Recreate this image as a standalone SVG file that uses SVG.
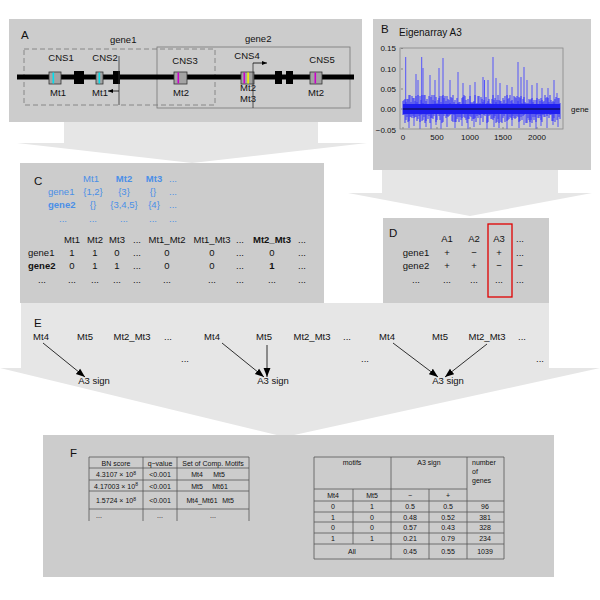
<svg xmlns="http://www.w3.org/2000/svg" width="600" height="600" viewBox="0 0 600 600">
<defs>
<style>
.p{fill:#cccccc}
.l{fill:#e6e6e6}
text{font-family:"Liberation Sans",Arial,sans-serif;font-size:9.5px;fill:#111}
.lab{font-size:11.5px}
.c{text-anchor:middle}
.r{text-anchor:end}
.b{font-weight:bold}
.bl{fill:#4a8fe7}
.s{font-size:7px}
.s8{font-size:8px}
.tb{fill:none;stroke:#555;stroke-width:0.8}
.cns{fill:#a3a3a3;stroke:#333;stroke-width:0.8}
.blk{fill:#000}
.arr{stroke:#000;stroke-width:0.8;fill:none}
</style>
<marker id="ah" viewBox="0 0 10 10" refX="10" refY="5" markerWidth="9" markerHeight="9" markerUnits="userSpaceOnUse" orient="auto"><path d="M0,1.2L10,5L0,8.8z" fill="#000"/></marker>
<marker id="ah2" viewBox="0 0 10 10" refX="10" refY="5" markerWidth="5" markerHeight="5" markerUnits="userSpaceOnUse" orient="auto"><path d="M0,1L10,5L0,9z" fill="#000"/></marker>
</defs>
<rect width="600" height="600" fill="#fff"/>

<!-- background flow arrows -->
<g id="flowAC"><path class="l" d="M64,122H318V143H367L192,163L17,143H64Z"/></g>
<g id="flowBD"><path class="l" d="M382,170H558V193H592L470,216L348,193H382Z"/></g>

<!-- Panel A -->
<g id="panelA">
<rect class="p" x="9" y="19" width="353" height="103"/>
<text class="lab" x="21" y="39">A</text>
<text x="110" y="43">gene1</text>
<text x="245" y="42">gene2</text>
<rect x="24" y="49" width="191" height="56" fill="none" stroke="#777" stroke-width="0.8" stroke-dasharray="5,3"/>
<rect x="157" y="47" width="193" height="61" fill="none" stroke="#777" stroke-width="0.8"/>
<line x1="17" y1="77" x2="354" y2="77" stroke="#000" stroke-width="5"/>
<rect class="blk" x="74" y="71" width="10" height="13"/>
<rect class="blk" x="113" y="71" width="7" height="13"/>
<rect class="blk" x="275" y="71" width="7" height="13"/>
<rect class="blk" x="286" y="71" width="7" height="13"/>
<g id="cns1"><rect class="cns" x="49" y="72" width="12" height="12"/><rect x="52.5" y="72.5" width="1.6" height="11" fill="#00e0ee"/><text class="c" x="61" y="61">CNS1</text><text class="c" x="58" y="96">Mt1</text></g>
<g id="cns2"><rect class="cns" x="96" y="72" width="7" height="12"/><rect x="98.5" y="72.5" width="1.6" height="11" fill="#00e0ee"/><text class="c" x="105" y="61">CNS2</text><text class="c" x="100" y="96">Mt1</text></g>
<g id="cns3"><rect class="cns" x="174" y="72" width="13" height="12"/><rect x="177.5" y="72.5" width="1.6" height="11" fill="#cc00cc"/><text class="c" x="185" y="64">CNS3</text><text class="c" x="181" y="96">Mt2</text></g>
<g id="cns4"><rect class="cns" x="241" y="72" width="13" height="12"/><rect x="243.5" y="72.5" width="1.6" height="11" fill="#cc00cc"/><rect x="247.3" y="72.5" width="1.6" height="11" fill="#f2f200"/><text class="c" x="247" y="59">CNS4</text><text class="c" x="248" y="91">Mt2</text><text class="c" x="248" y="102">Mt3</text></g>
<g id="cns5"><rect class="cns" x="310" y="72" width="12" height="12"/><rect x="314.5" y="72.5" width="1.6" height="11" fill="#cc00cc"/><text class="c" x="322" y="63">CNS5</text><text class="c" x="316" y="96">Mt2</text></g>
<g id="tss">
<line x1="119" y1="56" x2="119" y2="105" stroke="#333" stroke-width="0.8"/>
<line x1="119" y1="91" x2="108" y2="91" stroke="#000" stroke-width="0.8" marker-end="url(#ah2)"/>
<line x1="253" y1="63" x2="253" y2="108" stroke="#333" stroke-width="0.8"/>
<line x1="253" y1="63" x2="267" y2="63" stroke="#000" stroke-width="0.8" marker-end="url(#ah2)"/>
</g>
</g>

<!-- Panel B -->
<g id="panelB">
<rect class="p" x="373" y="19" width="218" height="151"/>
<text class="lab" x="381" y="33">B</text>
<text x="399" y="36" style="font-size:10px">Eigenarray A3</text>
<text class="r s8" x="396" y="51">0.15</text>
<text class="r s8" x="396" y="72">0.10</text>
<text class="r s8" x="396" y="92">0.05</text>
<text class="r s8" x="396" y="112">0.00</text>
<text class="r s8" x="396" y="133">−0.05</text>
<text class="c s8" x="403" y="140">0</text>
<text class="c s8" x="437" y="140">500</text>
<text class="c s8" x="470" y="140">1000</text>
<text class="c s8" x="503" y="140">1500</text>
<text class="c s8" x="537" y="140">2000</text>
<text class="s8" x="571" y="112">gene</text>
<path d="M401,48.5h2M401,69h2M401,89h2M401,109h2M403,127v2M437,127v2M470,127v2M503,127v2M537,127v2" stroke="#555" stroke-width="0.6"/>
<path stroke="#4848ff" stroke-width="1" opacity="0.9" d="M405.7 57V104M416 74V104M418 80V104M421.7 57V104M423 68V104M430 75V104M435 80V104M439 68V104M443 58V104M450 80V104M458 72V104M463 83V104M470 85V104M475 82V104M483 77V104M484.5 80V104M488 80V104M493 57V104M496 78V104M500 83V104M507 85V104M512 87V104M518 62V104M521 77V104M524 67V104M527 80V104M532 85V104M537 83V104M542 88V104M548 88V104M554 80V104M557 93V104M409 114V128M414 114V126M420 114V129M426 114V127M431 114V129M436 114V125M441 114V129M447 114V127M455 114V128M462 114V126M468 114V129M474 114V127M480 114V125M487 114V129M494 114V127M499 114V128M507 114V129M512 114V126M519 114V128M524 114V125M530 114V127M536 114V129M541 114V126M547 114V128M553 114V125M558 114V127"/>
<path stroke="#2a2aff" stroke-width="1" opacity="0.9" d="M403 101V115M404 100V115M405 99V123M406 102V120M407 99V117M408 99V122M409 95V121M410 95V117M411 102V117M412 96V118M413 98V116M414 98V118M415 101V117M416 96V117M417 102V121M418 95V119M419 104V116M420 96V122M421 100V115M422 95V121M423 103V120M424 95V117M425 95V123M426 101V121M427 99V115M428 104V119M429 96V116M430 104V123M431 97V118M432 95V118M433 100V119M434 95V116M435 101V114M436 97V122M437 103V120M438 100V114M439 98V116M440 96V120M441 102V114M442 96V123M443 95V122M444 98V116M445 96V114M446 101V118M447 96V116M448 99V117M449 100V116M450 103V115M451 97V114M452 98V121M453 95V122M454 102V115M455 100V122M456 104V122M457 98V119M458 103V117M459 102V122M460 102V117M461 104V120M462 98V118M463 97V114M464 95V117M465 96V118M466 100V120M467 104V123M468 99V119M469 104V119M470 96V116M471 102V117M472 103V121M473 102V119M474 101V119M475 95V118M476 104V122M477 103V116M478 96V118M479 96V115M480 103V115M481 97V118M482 99V114M483 102V122M484 100V115M485 104V116M486 97V114M487 103V123M488 101V122M489 99V116M490 103V115M491 104V119M492 99V119M493 95V120M494 100V118M495 98V116M496 102V123M497 100V122M498 95V119M499 100V123M500 101V114M501 101V122M502 103V123M503 98V118M504 100V116M505 96V122M506 103V114M507 95V121M508 99V120M509 98V119M510 95V117M511 101V118M512 100V120M513 103V116M514 96V118M515 97V119M516 98V118M517 96V116M518 101V117M519 97V122M520 98V121M521 96V117M522 103V120M523 99V116M524 97V115M525 102V114M526 103V123M527 104V123M528 103V118M529 99V120M530 100V122M531 99V120M532 98V123M533 102V117M534 100V120M535 104V117M536 100V122M537 98V115M538 104V118M539 99V118M540 101V116M541 98V120M542 100V122M543 102V115M544 101V117M545 95V117M546 98V114M547 97V116M548 98V114M549 102V118M550 95V115M551 100V115M552 102V121M553 101V121M554 102V118M555 99V122M556 97V114M557 104V120M558 98V114M559 98V117M560 103V119"/>
<rect x="403" y="104" width="157" height="10" fill="#1818f0" opacity="0.9"/>
<line x1="403" y1="109" x2="560" y2="109" stroke="#000" stroke-width="0.8"/>
<rect x="400" y="48" width="163" height="81" fill="none" stroke="#888" stroke-width="0.8"/>
</g>

<!-- Panel C -->
<g id="panelC">
<rect class="p" x="20" y="163" width="304" height="140"/>
<text class="lab" x="34" y="185">C</text>
<text class="c bl" x="91" y="182">Mt1</text>
<text class="c bl b" x="124" y="182">Mt2</text>
<text class="c bl b" x="154" y="182">Mt3</text>
<text class="c bl" x="173" y="182">...</text>
<text class="bl" x="48" y="195">gene1</text>
<text class="c bl" x="93" y="195">{1,2}</text>
<text class="c bl" x="124" y="195">{3}</text>
<text class="c bl" x="153" y="195">{}</text>
<text class="c bl" x="173" y="195">...</text>
<text class="bl b" x="48" y="208">gene2</text>
<text class="c bl" x="93" y="208">{}</text>
<text class="c bl" x="124" y="208">{3,4,5}</text>
<text class="c bl" x="154" y="208">{4}</text>
<text class="c bl" x="173" y="208">...</text>
<text class="c bl" x="63" y="222">...</text>
<text class="c bl" x="93" y="222">...</text>
<text class="c bl" x="124" y="222">...</text>
<text class="c bl" x="153" y="222">...</text>
<text class="c bl" x="173" y="222">...</text>
<text class="c" x="72" y="243">Mt1</text>
<text class="c" x="95" y="243">Mt2</text>
<text class="c" x="117" y="243">Mt3</text>
<text class="c" x="137" y="243">...</text>
<text class="c" x="167" y="243">Mt1_Mt2</text>
<text class="c" x="212" y="243">Mt1_Mt3</text>
<text class="c" x="240" y="243">...</text>
<text class="c b" x="272" y="243">Mt2_Mt3</text>
<text class="c" x="302" y="243">...</text>
<text x="28" y="256">gene1</text>
<text class="c" x="72" y="256">1</text>
<text class="c" x="95" y="256">1</text>
<text class="c" x="117" y="256">0</text>
<text class="c" x="137" y="256">...</text>
<text class="c" x="167" y="256">0</text>
<text class="c" x="212" y="256">0</text>
<text class="c" x="240" y="256">...</text>
<text class="c" x="272" y="256">0</text>
<text class="c" x="302" y="256">...</text>
<text class="b" x="28" y="269">gene2</text>
<text class="c" x="72" y="269">0</text>
<text class="c" x="95" y="269">1</text>
<text class="c" x="117" y="269">1</text>
<text class="c" x="137" y="269">...</text>
<text class="c" x="167" y="269">0</text>
<text class="c" x="212" y="269">0</text>
<text class="c" x="240" y="269">...</text>
<text class="c b" x="272" y="269">1</text>
<text class="c" x="302" y="269">...</text>
<text class="c" x="42" y="283" fill="#555">...</text>
<text class="c" x="72" y="283" fill="#555">...</text>
<text class="c" x="95" y="283" fill="#555">...</text>
<text class="c" x="117" y="283" fill="#555">...</text>
<text class="c" x="137" y="283" fill="#555">...</text>
<text class="c" x="167" y="283" fill="#555">...</text>
<text class="c" x="212" y="283" fill="#555">...</text>
<text class="c" x="240" y="283" fill="#555">...</text>
<text class="c" x="272" y="283" fill="#555">...</text>
<text class="c" x="302" y="283" fill="#555">...</text>
</g>

<!-- Panel D -->
<g id="panelD">
<rect class="p" x="383" y="218" width="166" height="85"/>
<text class="lab" x="389" y="237">D</text>
<text class="c" x="447" y="242">A1</text>
<text class="c" x="474" y="242">A2</text>
<text class="c" x="499" y="242">A3</text>
<text class="c" x="520" y="242">...</text>
<text class="c" x="416" y="256">gene1</text>
<text class="c" x="447" y="256">+</text>
<text class="c" x="474" y="256">−</text>
<text class="c" x="499" y="256">+</text>
<text class="c" x="520" y="256">...</text>
<text class="c" x="416" y="269">gene2</text>
<text class="c" x="447" y="269">+</text>
<text class="c" x="474" y="269">+</text>
<text class="c" x="499" y="269">−</text>
<text class="c" x="520" y="269">−</text>
<text class="c" x="416" y="283" fill="#555">...</text>
<text class="c" x="447" y="283" fill="#555">...</text>
<text class="c" x="474" y="283" fill="#555">...</text>
<text class="c" x="499" y="283" fill="#555">...</text>
<text class="c" x="520" y="283" fill="#555">...</text>
<rect x="488" y="224" width="24" height="73" fill="none" stroke="#e00000" stroke-width="1.3"/>
</g>

<!-- Panel E -->
<g id="panelE">
<path class="l" d="M21,303H549V368H600L285,437L0,368H21Z"/>
<text class="lab" x="34" y="327">E</text>
<text class="c" x="41" y="340">Mt4</text>
<text class="c" x="85" y="340">Mt5</text>
<text class="c" x="132" y="340">Mt2_Mt3</text>
<text class="c" x="168" y="340">...</text>
<text class="c" x="212" y="340">Mt4</text>
<text class="c" x="264" y="340">Mt5</text>
<text class="c" x="312" y="340">Mt2_Mt3</text>
<text class="c" x="347" y="340">...</text>
<text class="c" x="387" y="340">Mt4</text>
<text class="c" x="440" y="340">Mt5</text>
<text class="c" x="487" y="340">Mt2_Mt3</text>
<text class="c" x="522" y="340">...</text>
<text class="c" x="185" y="362" fill="#555">...</text>
<text class="c" x="365" y="362" fill="#555">...</text>
<text class="c" x="540" y="362" fill="#555">...</text>
<text class="c" x="94" y="384">A3 sign</text>
<text class="c" x="273" y="384">A3 sign</text>
<text class="c" x="448" y="384">A3 sign</text>
</g>
<g id="connectors">
<line class="arr" x1="43" y1="343" x2="85" y2="377" marker-end="url(#ah)"/>
<line class="arr" x1="222" y1="343" x2="264" y2="377" marker-end="url(#ah)"/>
<line class="arr" x1="267" y1="345" x2="267" y2="377" marker-end="url(#ah)"/>
<line class="arr" x1="393" y1="343" x2="438" y2="377" marker-end="url(#ah)"/>
<line class="arr" x1="487" y1="344" x2="445" y2="377" marker-end="url(#ah)"/>
</g>

<!-- Panel F -->
<g id="panelF">
<rect class="p" x="43" y="435" width="511" height="142"/>
<text class="lab" x="70" y="457">F</text>
<g id="tableBN">
<path class="tb" d="M89,457H249M89,468H249M89,480H249M89,491H249M89,509H249M89,457V521M143,457V521M177,457V521M249,457V521"/>
<text class="c s" x="116" y="465.5">BN score</text>
<text class="c s" x="160" y="465.5">q−value</text>
<text class="c s" x="213" y="465.5">Set of Comp. Motifs</text>
<text class="c s" x="116" y="477">4.3107 × 10<tspan dy="-2.5" style="font-size:5px">8</tspan></text>
<text class="c s" x="160" y="477">&lt;0.001</text>
<text class="c s" x="197" y="477">Mt4</text><text class="c s" x="219" y="477">Mt5</text>
<text class="c s" x="116" y="488.5">4.17003 × 10<tspan dy="-2.5" style="font-size:5px">8</tspan></text>
<text class="c s" x="160" y="488.5">&lt;0.001</text>
<text class="c s" x="197" y="488.5">Mt5</text><text class="c s" x="220" y="488.5">Mt61</text>
<text class="c s" x="116" y="503">1.5724 × 10<tspan dy="-2.5" style="font-size:5px">8</tspan></text>
<text class="c s" x="160" y="503">&lt;0.001</text>
<text class="c s" x="202" y="503">Mt4_Mt61</text><text class="c s" x="228" y="503">Mt5</text>
<text class="c s" x="99" y="518" fill="#555">...</text>
<text class="c s" x="160" y="518" fill="#555">...</text>
<text class="c s" x="213" y="518" fill="#555">...</text>
</g>
<g id="tableCounts">
<path class="tb" d="M314,457H504M314,489H467M314,501H504M314,512H504M314,522H504M314,533H504M314,544H504M314,559H504M314,457V559M353,489V544M391,457V559M429,489V559M467,457V559M504,457V559"/>
<text class="c s" x="352" y="465">motifs</text>
<text class="c s" x="429" y="465">A3 sign</text>
<text class="s" x="472" y="465">number</text>
<text class="s" x="472" y="474">of</text>
<text class="s" x="472" y="483">genes</text>
<text class="c s" x="333" y="497.5">Mt4</text>
<text class="c s" x="372" y="497.5">Mt5</text>
<text class="c s" x="410" y="497.5">−</text>
<text class="c s" x="448" y="497.5">+</text>
<text class="c s" x="333" y="509">0</text><text class="c s" x="372" y="509">1</text><text class="c s" x="410" y="509">0.5</text><text class="c s" x="448" y="509">0.5</text><text class="c s" x="485" y="509">96</text>
<text class="c s" x="333" y="519.5">1</text><text class="c s" x="372" y="519.5">0</text><text class="c s" x="410" y="519.5">0.48</text><text class="c s" x="448" y="519.5">0.52</text><text class="c s" x="485" y="519.5">381</text>
<text class="c s" x="333" y="530">0</text><text class="c s" x="372" y="530">0</text><text class="c s" x="410" y="530">0.57</text><text class="c s" x="448" y="530">0.43</text><text class="c s" x="485" y="530">328</text>
<text class="c s" x="333" y="541">1</text><text class="c s" x="372" y="541">1</text><text class="c s" x="410" y="541">0.21</text><text class="c s" x="448" y="541">0.79</text><text class="c s" x="485" y="541">234</text>
<text class="c s" x="352" y="554">All</text><text class="c s" x="410" y="554">0.45</text><text class="c s" x="448" y="554">0.55</text><text class="c s" x="485" y="554">1039</text>
</g>
</g>
</svg>
